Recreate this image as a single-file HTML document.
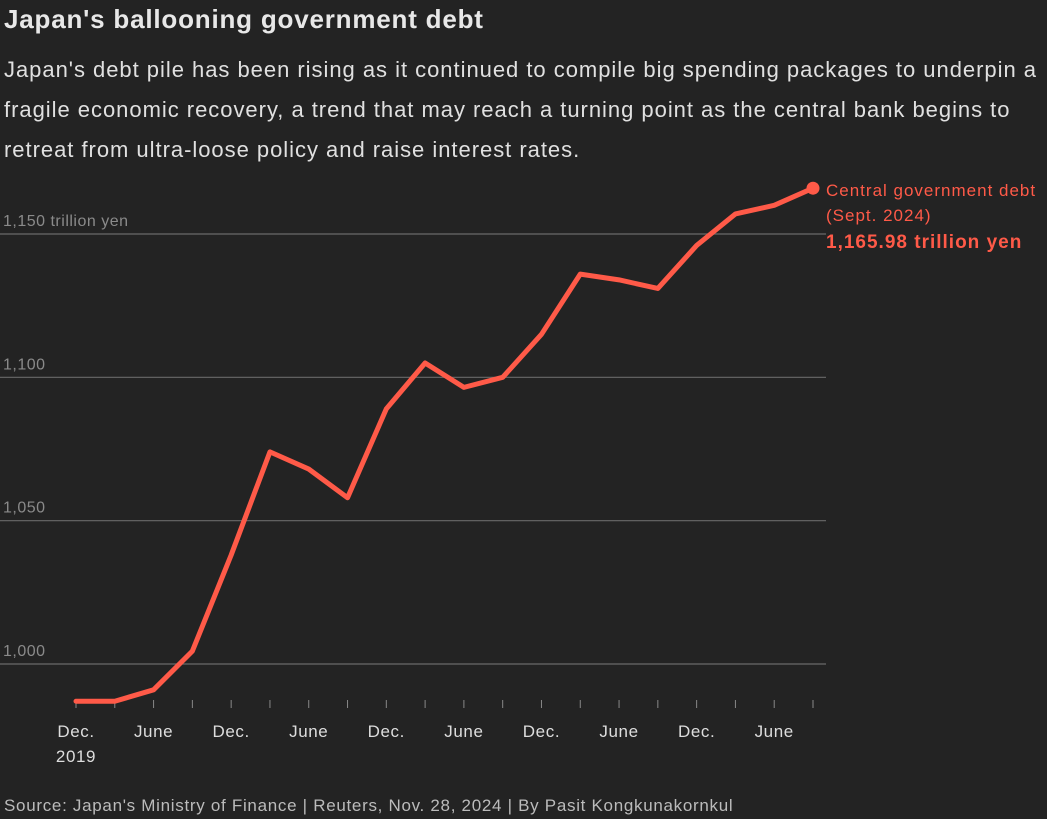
<!DOCTYPE html>
<html><head><meta charset="utf-8"><style>
body{margin:0;background:#232323;width:1047px;height:819px;overflow:hidden;font-family:"Liberation Sans",sans-serif;color:#e6e6e6}
h1{position:absolute;left:4px;top:4px;margin:0;font-size:26px;font-weight:bold;color:#e8e8e8;letter-spacing:0.8px;white-space:nowrap}
.sub{position:absolute;left:4px;top:50px;width:1045px;font-size:22px;line-height:40px;color:#e0e0e0;margin:0;white-space:nowrap;letter-spacing:0.97px}
.src{position:absolute;left:4px;top:796px;font-size:17px;color:#bbb;letter-spacing:0.7px;white-space:nowrap}
svg{position:absolute;left:0;top:0}
</style></head><body>
<h1>Japan's ballooning government debt</h1>
<p class="sub">Japan's debt pile has been rising as it continued to compile big spending packages to underpin a<br>fragile economic recovery, a trend that may reach a turning point as the central bank begins to<br>retreat from ultra-loose policy and raise interest rates.</p>
<svg id="chart" width="1047" height="819"></svg>
<div class="src">Source: Japan's Ministry of Finance | Reuters, Nov. 28, 2024 | By Pasit Kongkunakornkul</div>
<script>
const quarters=["Dec 2019","Mar 2020","Jun 2020","Sep 2020","Dec 2020","Mar 2021","Jun 2021","Sep 2021","Dec 2021","Mar 2022","Jun 2022","Sep 2022","Dec 2022","Mar 2023","Jun 2023","Sep 2023","Dec 2023","Mar 2024","Jun 2024","Sep 2024"];
const debt=[987,987,991,1004.5,1038,1074,1068,1058,1089,1105,1096.5,1100,1115,1136,1134,1131,1146,1157,1160,1165.98];
const yTicks=[1000,1050,1100,1150];
const yTickLabels=["1,000","1,050","1,100","1,150 trillion yen"];
const xLabelIdx=[0,2,4,6,8,10,12,14,16,18];
const xLabels=["Dec.","June","Dec.","June","Dec.","June","Dec.","June","Dec.","June"];
const NS="http://www.w3.org/2000/svg";
const svg=document.getElementById('chart');
const x=i=>76+i*(813-76)/19;
const y=v=>664-(v-1000)*(664-234)/150;
function mk(t,a){const e=document.createElementNS(NS,t);for(const k in a)e.setAttribute(k,a[k]);svg.appendChild(e);return e;}
yTicks.forEach((v,i)=>{
  const g=mk('line',{x1:0,x2:826,y1:y(v),y2:y(v),stroke:'#6a6a6a','stroke-width':1.2});
  
  
  const t=mk('text',{x:3,y:y(v)-8,fill:'#8a8a8a','font-size':16,'letter-spacing':0.5});
  t.textContent=yTickLabels[i];
  
  
});
quarters.forEach((q,i)=>{
  const tk=mk('line',{x1:x(i),x2:x(i),y1:700,y2:708,stroke:'#888','stroke-width':1});
  
  
});
xLabelIdx.forEach((idx,j)=>{
  const t=mk('text',{x:x(idx),y:737,fill:'#ddd','font-size':17,'text-anchor':'middle','letter-spacing':0.6});
  t.textContent=xLabels[j];
  
  
});
const yr=mk('text',{x:x(0),y:762,fill:'#ddd','font-size':17,'text-anchor':'middle','letter-spacing':0.6});
yr.textContent='2019';


const line=mk('polyline',{points:debt.map((v,i)=>x(i)+','+y(v)).join(' '),fill:'none',stroke:'#ff5a48','stroke-width':5,'stroke-linejoin':'round','stroke-linecap':'round'});


const last=debt.length-1;
const dot=mk('circle',{cx:x(last),cy:y(debt[last]),r:6.5,fill:'#ff5a48'});


[['Central government debt',196,17,'normal',1],['(Sept. 2024)',221,17,'normal',1],['1,165.98 trillion yen',248,19,'bold',1]].forEach(([s,yy,fs,fw,ls])=>{
  const t=mk('text',{x:826,y:yy,fill:'#ff5a48','font-size':fs,'font-weight':fw,'letter-spacing':ls});
  t.textContent=s;
  
  
});
</script>
</body></html>
